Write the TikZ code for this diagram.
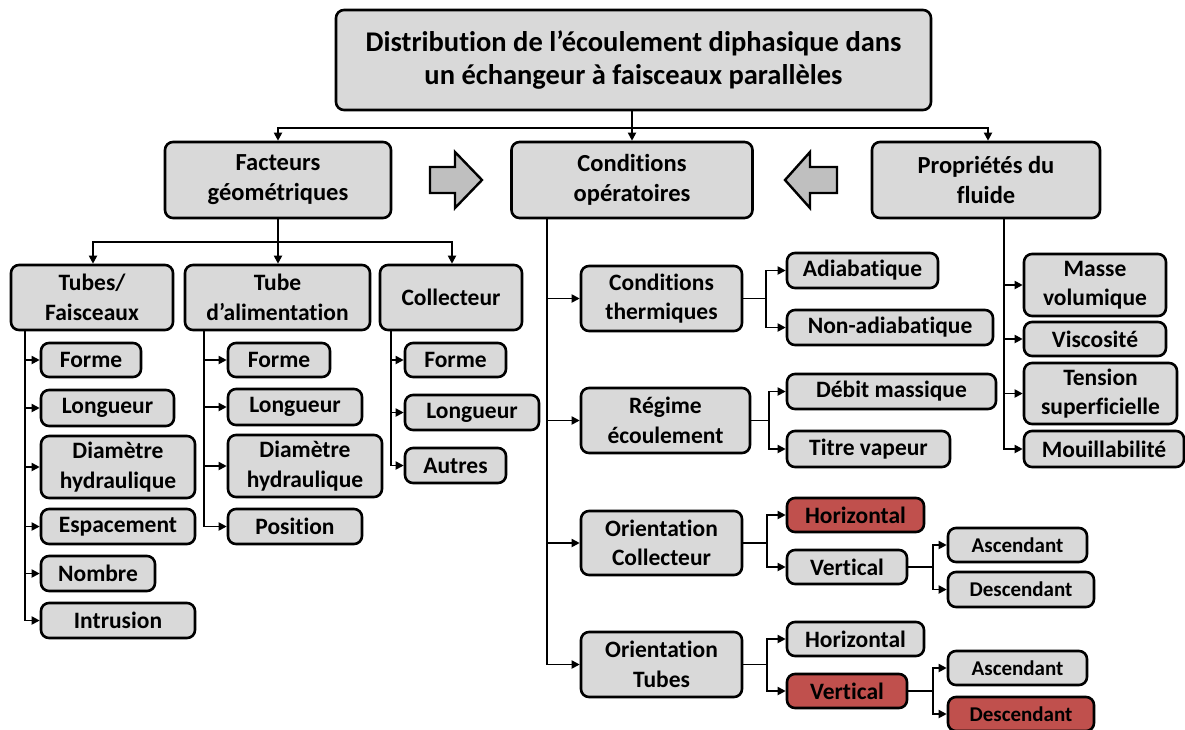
\documentclass[tikz,border=0pt]{standalone}
\usepackage{fontspec}
\setmainfont{Carlito}[Ligatures=NoCommon]
\usetikzlibrary{arrows.meta}
\definecolor{boxgray}{HTML}{D9D9D9}
\definecolor{boxred}{HTML}{C0504D}
\definecolor{bigarrow}{HTML}{BFBFBF}
\tikzset{
  box/.style={draw=black, line width=2.6pt, rounded corners=8pt, fill=boxgray,
    align=center, inner sep=0pt, font=\bfseries\fontsize{23.5}{29.5}\selectfont},
  redbox/.style={box, fill=boxred},
  small/.style={font=\bfseries\fontsize{21}{26}\selectfont},
  big/.style={font=\bfseries\fontsize{24.5}{30}\selectfont},
  conn/.style={draw=black, line width=1.8pt},
  arr/.style={conn, -{Triangle[length=8pt,width=8pt]}},
  sz/.style 2 args={minimum width=#1pt, minimum height=#2pt}
}
\begin{document}
\begin{tikzpicture}[x=1pt,y=-1pt]
\useasboundingbox (0,0) rectangle (1185,729);
% level 0
\node[box, sz={595}{100}, font=\bfseries\fontsize{28.5}{33}\selectfont] (title) at (633.5,60) {Distribution de l’écoulement diphasique dans\\un échangeur à faisceaux parallèles};
% level 1
\node[box, big, sz={226}{76}] (fact) at (278,180) {Facteurs\\géométriques};
\node[box, big, sz={241}{76}] (cond) at (632,180) {Conditions\\opératoires};
\node[box, big, sz={228}{76}] (prop) at (986,180) {Propriétés du\\fluide};
% block arrows
\draw[line width=2.4pt, fill=bigarrow] (430,167) -- (455,167) -- (455,152) -- (482,180) -- (455,208) -- (455,193) -- (430,193) -- cycle;
\draw[line width=2.4pt, fill=bigarrow] (837,167) -- (810,167) -- (810,152) -- (785,180) -- (810,208) -- (810,193) -- (837,193) -- cycle;
% level 2 geometric
\node[box, sz={162}{65}] (tubes) at (92,297.5) {Tubes/\\Faisceaux};
\node[box, sz={185}{65}] (talim) at (277.5,297.5) {Tube\\d’alimentation};
\node[box, sz={142}{65}] (coll) at (451,297.5) {Collecteur};
% tubes children
\node[box, sz={100}{34}] (tf1) at (91,360) {Forme};
\node[box, sz={133}{36}] (tf2) at (107.5,408) {Longueur};
\node[box, sz={154}{62}] (tf3) at (118,467) {Diamètre\\hydraulique};
\node[box, sz={154}{35}] (tf4) at (118,526.5) {Espacement};
\node[box, sz={114}{35}] (tf5) at (98,573.5) {Nombre};
\node[box, sz={154}{35}] (tf6) at (118,620.5) {Intrusion};
% tube alim children
\node[box, sz={102}{34}] (ta1) at (279,360) {Forme};
\node[box, sz={134}{36}] (ta2) at (295,407) {Longueur};
\node[box, sz={154}{62}] (ta3) at (305,466) {Diamètre\\hydraulique};
\node[box, sz={134}{35}] (ta4) at (295,526.5) {Position};
% collecteur children
\node[box, sz={101}{34}] (c1) at (455.5,360) {Forme};
\node[box, sz={134}{35}] (c2) at (472,412.5) {Longueur};
\node[box, sz={101}{35}] (c3) at (455.5,465.5) {Autres};
% conditions children
\node[box, sz={161}{65}] (ct) at (661.5,298.5) {Conditions\\thermiques};
\node[box, sz={169}{65}] (re) at (665.5,420.5) {Régime\\écoulement};
\node[box, sz={161}{64}] (oc) at (661.5,543) {Orientation\\Collecteur};
\node[box, sz={161}{65}] (ot) at (661.5,664.5) {Orientation\\Tubes};
\node[box, sz={151}{35}] (adia) at (862.5,270.5) {Adiabatique};
\node[box, sz={206}{35}] (nadia) at (890,327.5) {Non-adiabatique};
\node[box, sz={209}{35}] (debit) at (891.5,391.5) {Débit massique};
\node[box, sz={163}{36}] (titre) at (868.5,449) {Titre vapeur};
\node[redbox, sz={137}{34}] (h1) at (855.5,515) {Horizontal};
\node[box, sz={120}{34}] (v1) at (847,567) {Vertical};
\node[box, small, sz={139}{34}] (a1) at (1017.5,545) {Ascendant};
\node[box, small, sz={146}{35}] (d1) at (1021,589.5) {Descendant};
\node[box, sz={137}{34}] (h2) at (855.5,639) {Horizontal};
\node[redbox, sz={120}{34}] (v2) at (847,691) {Vertical};
\node[box, small, sz={139}{34}] (a2) at (1017.5,668) {Ascendant};
\node[redbox, small, sz={146}{34}] (d2) at (1021,714) {Descendant};
% fluid properties children
\node[box, sz={142}{62}] (mv) at (1095,285) {Masse\\volumique};
\node[box, sz={142}{34}] (visc) at (1095,339) {Viscosité};
\node[box, sz={153}{61}] (tens) at (1100.5,393.5) {Tension\\superficielle};
\node[box, sz={160}{36}] (mouil) at (1104,449) {Mouillabilité};
% connectors top
\draw[arr] (title.south -| cond.north) -- (cond.north);
\draw[conn] (title.south -| cond.north) -- ++(0,17) coordinate (tj);
\draw[arr] (tj) -| (fact.north);
\draw[arr] (tj) -| ([xshift=2pt]prop.north);
% facteurs
\draw[conn] (fact.south) -- ++(0,23) coordinate (fj);
\draw[arr] (fj) -| ([xshift=1pt]tubes.north);
\draw[arr] (fj) -- (fj |- talim.north);
\draw[arr] (fj) -| ([xshift=1pt]coll.north);
% tubes children
\foreach \c in {tf1,tf2,tf3,tf4,tf5,tf6}
  \draw[arr] ([xshift=15pt]tubes.south west) |- (\c.west);
\foreach \c in {ta1,ta2,ta3,ta4}
  \draw[arr] ([xshift=20pt]talim.south west) |- (\c.west);
\foreach \c in {c1,c2,c3}
  \draw[arr] ([xshift=12pt]coll.south west) |- (\c.west);
% conditions children
\foreach \c in {ct,re,oc,ot}
  \draw[arr] ([xshift=37pt]cond.south west) |- (\c.west);
\draw[conn] (ct.east) -- ++(23,0) coordinate (ctj);
\draw[arr] (ctj) |- (adia.west);
\draw[arr] (ctj) |- (nadia.west);
\draw[conn] (re.east) -- ++(18,0) coordinate (rej);
\draw[arr] (rej) |- (debit.west);
\draw[arr] (rej) |- (titre.west);
\draw[conn] (oc.east) -- ++(24,0) coordinate (ocj);
\draw[arr] (ocj) |- (h1.west);
\draw[arr] (ocj) |- (v1.west);
\draw[conn] (v1.east) -- ++(25,0) coordinate (v1j);
\draw[arr] (v1j) |- (a1.west);
\draw[arr] (v1j) |- (d1.west);
\draw[conn] (ot.east) -- ++(24,0) coordinate (otj);
\draw[arr] (otj) |- (h2.west);
\draw[arr] (otj) |- (v2.west);
\draw[conn] (v2.east) -- ++(25,0) coordinate (v2j);
\draw[arr] (v2j) |- (a2.west);
\draw[arr] (v2j) |- (d2.west);
% fluid children
\foreach \c in {mv,visc,tens,mouil}
  \draw[arr] ([xshift=133pt]prop.south west) |- (\c.west);
\end{tikzpicture}
\end{document}
